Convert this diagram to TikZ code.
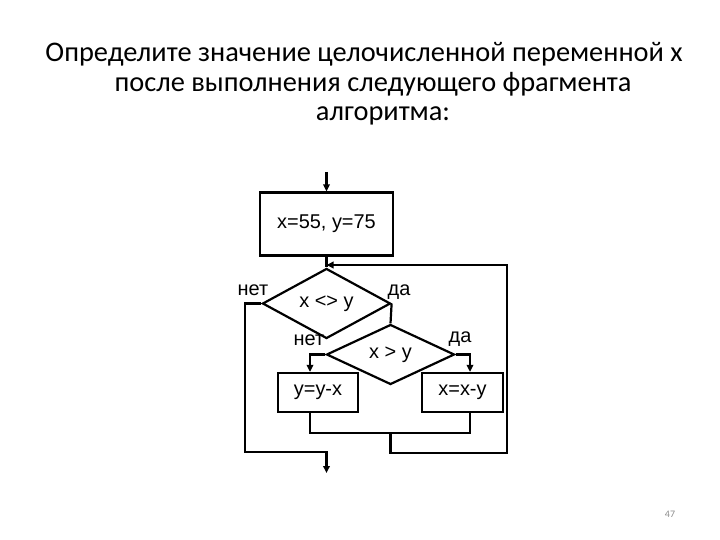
\documentclass[tikz,border=0pt]{standalone}
\usepackage{fontspec}
\setmainfont{Carlito}
\newfontfamily\chartfont{Liberation Sans}
\usetikzlibrary{arrows.meta,shapes.geometric}
\definecolor{fcink}{HTML}{000000}
\definecolor{fcpage}{HTML}{8C8C8C}

\begin{document}
\begin{tikzpicture}[x=1bp,y=-1bp,
    line/.style={draw=fcink,line width=2.2bp},
    arr/.style={line,-{Triangle[length=7bp,width=6.5bp]}},
    procbox/.style={line,rectangle,inner sep=0pt,font=\chartfont\fontsize{20}{24}\selectfont},
    decision/.style={line,diamond,inner sep=0pt,minimum width=128bp,minimum height=60bp,font=\chartfont\fontsize{20}{24}\selectfont},
    branch/.style={anchor=base,inner sep=0pt,font=\chartfont\fontsize{20}{24}\selectfont},
    heading/.style={anchor=base,inner sep=0pt,font=\fontsize{28.5}{30}\selectfont}]
  \fill[white] (0,0) rectangle (720,540);
  \useasboundingbox (0,0) rectangle (720,540);
  % question
  \node[heading] (title1) at (364,62) {Определите значение целочисленной переменной х};
  \node[heading] (title2) at (373,92) {после выполнения следующего фрагмента};
  \node[heading] (title3) at (383,121) {алгоритма:};
  % blocks
  \node[procbox,minimum width=133bp,minimum height=63bp] (init) at (326.5,224) {x=55, y=75};
  \node[decision] (neq) at (326.5,303.5) {x <> y};
  \node[decision] (gt) at (390.5,354.5) {x > y};
  \node[procbox,minimum width=80bp,minimum height=39bp] (suby) at (318,392.5) {y=y-x};
  \node[procbox,minimum width=81bp,minimum height=39bp] (subx) at (462.5,392.5) {x=x-y};
  % branch labels
  \node[branch] (neqno) at (253,295) {нет};
  \node[branch] (neqyes) at (399,295) {да};
  \node[branch] (gtno) at (309,345) {нет};
  \node[branch] (gtyes) at (460,342) {да};
  % helper points
  \coordinate (start) at (326.5,172);
  \coordinate (reentry) at (326.5,265);
  \coordinate (nojoin) at (310,433);
  \coordinate (yesjoin) at (470,433);
  \coordinate (loopright) at (507,453);
  \coordinate (exitcorner) at (245,452);
  \coordinate (exit) at (326.5,473);
  % connectors
  \draw[arr] (start) -- (init);
  \draw[line] (init) -- (neq);
  \draw[line] (neq.east) -- (gt.north);
  \draw[arr] (gt.west) -| (suby.north -| nojoin);
  \draw[arr] (gt.east) -| (subx.north -| yesjoin);
  \draw[line] (suby.south -| nojoin) -- (nojoin) -- (yesjoin) -- (subx.south -| yesjoin);
  \draw[arr] (gt.south |- nojoin) |- (loopright) |- (reentry);
  \draw[arr] (neq.west) -| (exitcorner) -| (exit);
  % slide number
  \node[inner sep=0pt,text=fcpage,font=\fontsize{10}{12}\selectfont] (pagenum) at (670,514) {47};
\end{tikzpicture}
\end{document}
